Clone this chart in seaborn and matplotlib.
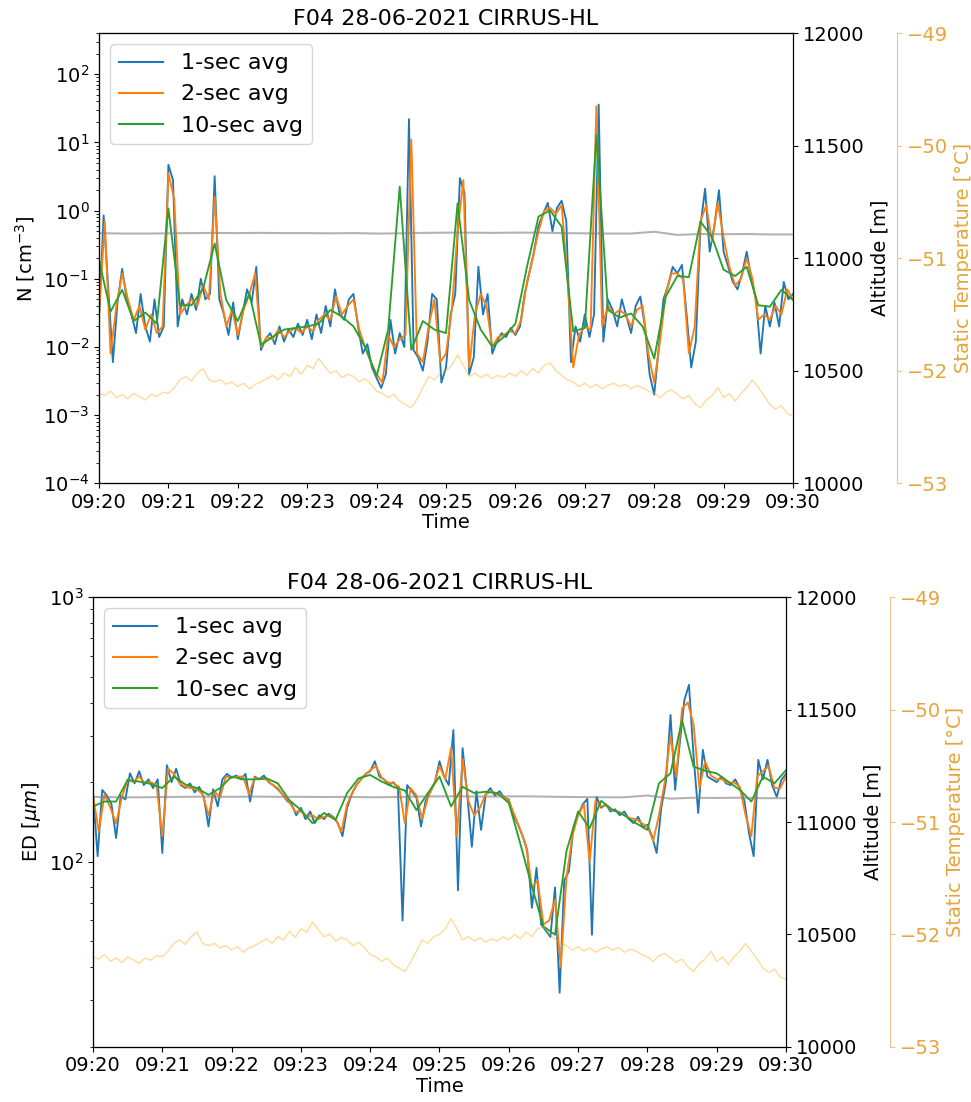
import numpy as np
import pandas as pd
import matplotlib
matplotlib.use("Agg")
import matplotlib.pyplot as plt
import matplotlib.dates as mdates
import seaborn as sns

# ---------------- data ----------------
start = "2021-06-28 09:20:00"
title = "F04 28-06-2021 CIRRUS-HL"
series_labels = ["1-sec avg", "2-sec avg", "10-sec avg"]

sec_1s = np.arange(0, 601, 4)      # sample times (s after 09:20) for 1-sec curve
sec_2s = np.arange(0, 601, 5)      # sample times for 2-sec curve
sec_10s = np.arange(0, 601, 10)    # sample times for 10-sec curve
sec_temp = np.arange(0, 601, 5)
sec_alt = np.arange(0, 601, 20)

# number concentration N [cm^-3]
n_1s = [0.025, 0.85, 0.07, 0.006, 0.045, 0.14, 0.05, 0.03, 0.016, 0.06, 0.02, 0.012, 0.05, 0.014, 0.02,
        4.7, 2.8, 0.02, 0.05, 0.03, 0.06, 0.035, 0.1, 0.05, 0.06, 3.2, 0.05, 0.03, 0.015, 0.045,
        0.013, 0.03, 0.07, 0.045, 0.15, 0.009, 0.013, 0.016, 0.011, 0.02, 0.012, 0.018, 0.014, 0.022, 0.015,
        0.025, 0.013, 0.03, 0.016, 0.04, 0.02, 0.07, 0.03, 0.025, 0.05, 0.06, 0.02, 0.008, 0.011, 0.005,
        0.0035, 0.0025, 0.004, 0.025, 0.008, 0.016, 0.01, 22, 0.009, 0.007, 0.0045, 0.012, 0.06, 0.05, 0.003,
        0.005, 0.03, 0.06, 3.0, 1.8, 0.004, 0.007, 0.15, 0.03, 0.06, 0.008, 0.012, 0.016, 0.014, 0.019,
        0.015, 0.02, 0.06, 0.12, 0.25, 0.6, 0.9, 1.3, 0.5, 1.1, 1.4, 0.7, 0.006, 0.02, 0.012,
        0.03, 0.014, 0.03, 36, 0.012, 0.05, 0.035, 0.02, 0.05, 0.028, 0.016, 0.04, 0.055, 0.02, 0.004,
        0.002, 0.01, 0.05, 0.08, 0.15, 0.12, 0.16, 0.03, 0.005, 0.012, 0.6, 2.1, 0.25, 0.6, 2.0,
        0.25, 0.15, 0.09, 0.07, 0.12, 0.25, 0.1, 0.05, 0.008, 0.04, 0.02, 0.045, 0.02, 0.09, 0.05,
        0.06]
n_2s = [0.03, 0.7, 0.008, 0.04, 0.12, 0.05, 0.025, 0.04, 0.018, 0.03, 0.016, 0.02, 3.5, 1.5, 0.03,
        0.04, 0.05, 0.04, 0.08, 0.05, 1.6, 0.06, 0.02, 0.035, 0.015, 0.035, 0.06, 0.12, 0.01, 0.014,
        0.013, 0.018, 0.014, 0.017, 0.019, 0.016, 0.02, 0.017, 0.025, 0.03, 0.025, 0.055, 0.03, 0.04, 0.05,
        0.018, 0.01, 0.006, 0.004, 0.003, 0.015, 0.01, 0.013, 0.015, 11, 0.008, 0.006, 0.02, 0.05, 0.006,
        0.008, 0.035, 0.5, 2.8, 0.005, 0.03, 0.06, 0.04, 0.01, 0.014, 0.015, 0.017, 0.016, 0.025, 0.09,
        0.2, 0.5, 1.0, 1.1, 0.9, 1.2, 0.1, 0.005, 0.015, 0.02, 0.018, 34, 0.02, 0.04, 0.03,
        0.035, 0.03, 0.02, 0.035, 0.04, 0.008, 0.003, 0.012, 0.06, 0.12, 0.12, 0.1, 0.008, 0.02, 0.7,
        1.2, 0.35, 1.3, 0.4, 0.15, 0.08, 0.1, 0.2, 0.1, 0.025, 0.03, 0.025, 0.04, 0.03, 0.07,
        0.05]
n_10s = [0.19, 0.033, 0.069, 0.024, 0.032, 0.022, 1.08, 0.041, 0.041, 0.072, 0.33, 0.049, 0.024, 0.061, 0.0107,
         0.014, 0.018, 0.019, 0.020, 0.022, 0.035, 0.028, 0.020, 0.0101, 0.0037, 0.018, 2.25, 0.0091, 0.024, 0.018,
         0.016, 1.28, 0.049, 0.018, 0.0101, 0.014, 0.022, 0.15, 0.82, 1.01, 0.58, 0.017, 0.019, 12.9, 0.035,
         0.027, 0.031, 0.020, 0.0068, 0.055, 0.11, 0.106, 0.69, 0.41, 0.136, 0.11, 0.15, 0.041, 0.039, 0.069,
         0.049]

# effective diameter ED [um]
ed_1s = [182, 105, 187, 178, 165, 123, 178, 172, 216, 198, 220, 195, 205, 190, 205,
         108, 232, 200, 225, 195, 190, 198, 183, 192, 175, 136, 188, 162, 205, 215,
         208, 212, 205, 215, 169, 210, 205, 212, 200, 195, 188, 180, 170, 165, 150,
         160, 145, 155, 140, 150, 145, 152, 148, 140, 125, 160, 180, 195, 205, 215,
         220, 240, 210, 205, 195, 200, 190, 60, 195, 185, 175, 136, 170, 185, 200,
         240, 210, 195, 315, 78, 269, 180, 114, 185, 132, 180, 190, 178, 185, 175,
         172, 150, 138, 125, 110, 67, 95, 58, 55, 52, 80, 32, 85, 92, 135,
         150, 165, 173, 53, 176, 160, 165, 155, 158, 150, 155, 145, 140, 148, 135,
         138, 125, 108, 160, 200, 359, 187, 280, 409, 467, 250, 153, 265, 210, 205,
         200, 210, 198, 195, 205, 190, 170, 128, 105, 243, 205, 243, 195, 176, 204,
         215]
ed_2s = [178, 130, 180, 160, 140, 175, 205, 200, 210, 198, 200, 195, 125, 225, 215,
         198, 192, 190, 188, 180, 150, 185, 175, 210, 208, 210, 210, 180, 208, 206,
         205, 196, 190, 178, 168, 155, 155, 148, 150, 145, 148, 150, 145, 130, 165,
         185, 200, 212, 222, 230, 208, 200, 198, 192, 140, 190, 178, 145, 175, 195,
         230, 205, 270, 125, 245, 170, 150, 160, 180, 185, 180, 178, 170, 150, 132,
         115, 80, 85, 58, 60, 72, 40, 88, 125, 150, 165, 100, 170, 162, 163,
         156, 155, 150, 146, 145, 140, 136, 120, 150, 200, 300, 210, 380, 400, 330,
         190, 240, 212, 205, 205, 198, 200, 192, 150, 125, 210, 220, 230, 190, 190,
         210]
ed_10s = [162, 169, 169, 204, 201, 197, 190, 210, 196, 190, 179, 190, 210, 205, 205,
          207, 198, 171, 157, 140, 153, 144, 182, 207, 213, 201, 192, 186, 157, 182,
          210, 162, 192, 182, 184, 182, 167, 117, 80.5, 57, 53, 110, 155, 134, 170,
          157, 150, 140, 132, 198, 216, 343, 229, 221, 216, 201, 187, 169, 210, 198,
          222]

# static temperature [deg C] and altitude [m]
temp_c = [-52.2, -52.22, -52.18, -52.24, -52.21, -52.25, -52.2, -52.23, -52.26, -52.21, -52.23, -52.19, -52.2,
          -52.15, -52.08, -52.05, -52.09, -52.02, -51.98, -52.08, -52.1, -52.08, -52.12, -52.1, -52.14, -52.11,
          -52.16, -52.12, -52.1, -52.07, -52.04, -52.08, -52.02, -52.05, -51.97, -52.03, -51.95, -51.98, -51.89,
          -51.96, -52.02, -52.0, -52.06, -52.03, -52.05, -52.1, -52.07, -52.12, -52.18, -52.2, -52.24, -52.21,
          -52.27, -52.3, -52.33, -52.25, -52.15, -52.05, -52.08, -52.02, -52.0, -51.95, -51.86, -51.95, -52.05,
          -52.02, -52.06, -52.03, -52.07, -52.04, -52.06, -52.02, -52.05, -52.0, -52.04, -51.98, -52.02, -51.95,
          -51.93, -52.0, -52.04, -52.08, -52.1, -52.14, -52.11, -52.15, -52.12, -52.16, -52.13, -52.11, -52.14,
          -52.12, -52.16, -52.13, -52.15, -52.18, -52.2, -52.24, -52.19, -52.17, -52.21, -52.25, -52.22, -52.29,
          -52.33, -52.26, -52.22, -52.15, -52.24, -52.2, -52.27, -52.2, -52.15, -52.08, -52.15, -52.22, -52.3,
          -52.34, -52.31, -52.38, -52.4]
alt_m = [11112, 11110, 11110, 11111, 11112, 11113, 11112, 11113, 11112, 11112, 11111, 11112, 11110, 11111,
         11113, 11114, 11114, 11113, 11114, 11114, 11112, 11111, 11110, 11110, 11118, 11104, 11108, 11107,
         11108, 11106, 11106]

alt_ticks = [10000, 10500, 11000, 11500, 12000]
temp_ticks = [-53, -52, -51, -50, -49]

# ---------------- plot ----------------
t0 = pd.Timestamp(start)


def tt(sec):
    return t0 + pd.to_timedelta(np.asarray(sec), unit="s")


plt.rcParams["font.family"] = ["DejaVu Sans"]
fig = plt.figure(figsize=(9.71, 11.02), dpi=100)

T_LAB = "#e8a43a"
T_SPN = "#e8c48e"
BLUE, ORANGE, GREEN = "#1f77b4", "#ff7f0e", "#2ca02c"
LW = 1.35


def panel(rect, d1, d2, d10, ylabel, ylim):
    ax = fig.add_axes(rect)
    ax.set_yscale("log")
    sns.lineplot(x=tt(sec_1s), y=d1, ax=ax, color=BLUE, lw=LW, label=series_labels[0])
    sns.lineplot(x=tt(sec_2s), y=d2, ax=ax, color=ORANGE, lw=LW, label=series_labels[1])
    sns.lineplot(x=tt(sec_10s), y=d10, ax=ax, color=GREEN, lw=LW, label=series_labels[2])
    ax.set_ylim(*ylim)
    ax.set_xlim(t0, t0 + pd.Timedelta(minutes=10))
    ax.xaxis.set_major_locator(mdates.MinuteLocator(interval=1))
    ax.xaxis.set_major_formatter(mdates.DateFormatter("%H:%M"))
    ax.set_xlabel("Time", fontsize=14, labelpad=1)
    ax.set_ylabel(ylabel, fontsize=14)
    ax.set_title(title, fontsize=16)
    ax.tick_params(labelsize=14)
    leg = ax.legend(loc="upper left", fontsize=16)
    for h in leg.get_lines():
        h.set_linewidth(1.5)

    ax2 = ax.twinx()
    sns.lineplot(x=tt(sec_alt), y=alt_m, ax=ax2, color="gray", alpha=0.6, lw=1.5, legend=False)
    ax2.set_ylim(10000, 12000)
    ax2.set_yticks(alt_ticks)
    ax2.set_ylabel("Altitude [m]", fontsize=14)
    ax2.tick_params(labelsize=14)

    ax3 = ax.twinx()
    sns.lineplot(x=tt(sec_temp), y=temp_c, ax=ax3, color="orange", alpha=0.4, lw=1.0, legend=False)
    ax3.set_ylim(-53, -49)
    ax3.set_yticks(temp_ticks)
    ax3.spines["right"].set_position(("axes", 1.15))
    ax3.spines["right"].set_color(T_SPN)
    ax3.tick_params(axis="y", colors=T_SPN, labelcolor=T_LAB, labelsize=14)
    ax3.set_ylabel("Static Temperature [°C]", fontsize=14, color=T_LAB)
    ax3.set_xlim(t0, t0 + pd.Timedelta(minutes=10))
    return ax


panel([99 / 971, 1 - 483.3 / 1102, 694 / 971, 450 / 1102], n_1s, n_2s, n_10s,
      "N [cm$^{-3}$]", (1e-4, 4e2))
panel([93 / 971, 1 - 1046.7 / 1102, 693 / 971, 449.4 / 1102], ed_1s, ed_2s, ed_10s,
      "ED [$\\mu m$]", (20, 1000))

fig.savefig("out.png", dpi=100)
